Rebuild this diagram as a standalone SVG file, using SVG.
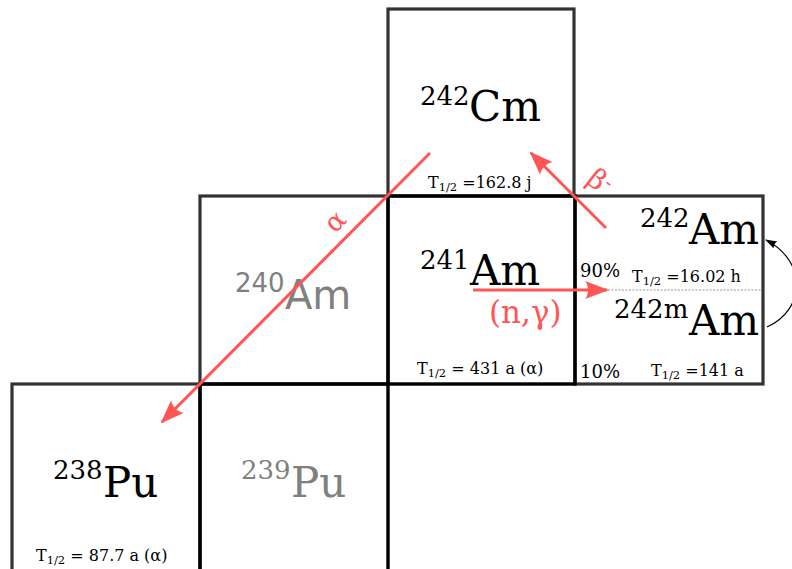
<svg xmlns="http://www.w3.org/2000/svg" width="792" height="569" viewBox="0 0 792 569">
<style>
.box{fill:none;stroke:#333;stroke-width:3.2}
.boxk{fill:none;stroke:#000;stroke-width:3.4}
.s{font-family:"DejaVu Serif","Liberation Serif",serif;fill:#000}
.ss{font-family:"DejaVu Sans","Liberation Sans",sans-serif;fill:#808080}
.g{fill:#808080}
.big{font-size:42px}
.sup{font-size:26px}
.t{font-size:16px}
.sub{font-size:11.5px}
.red{fill:#ff5555}
.arr{stroke:#ff5555;stroke-width:3;fill:none}
</style>
<defs>
<marker id="ra" markerUnits="userSpaceOnUse" viewBox="0 0 24 18" markerWidth="24" markerHeight="18" refX="22" refY="9" orient="auto">
<path d="M24 9 L0 0 C4 4 4 14 0 18 Z" fill="#ff5555"/>
</marker>
<marker id="ka" markerUnits="userSpaceOnUse" viewBox="0 0 12 8" markerWidth="12" markerHeight="8" refX="11" refY="4" orient="auto">
<path d="M12 4 L0 0 C2 2 2 6 0 8 Z" fill="#000"/>
</marker>
</defs>
<g id="cm242">
<rect class="box" x="388" y="9" width="186" height="187"/>
<text class="s sup" x="420" y="105">242</text>
<text class="s big" x="469" y="121">Cm</text>
<text class="s t" x="428" y="188">T<tspan class="sub" dy="3">1/2</tspan><tspan dy="-3"> =162.8 j</tspan></text>
</g>
<g id="am240">
<rect class="box" x="200" y="196" width="188" height="188"/>
<text class="ss" font-size="26" x="235" y="292">240</text>
<text class="ss" font-size="40" x="285" y="309">Am</text>
</g>
<g id="am242">
<rect class="box" x="575" y="196" width="188" height="188"/>
<text class="s sup" x="640" y="227">242</text>
<text class="s big" x="689" y="244">Am</text>
<text class="s sup" x="614" y="318">242m</text>
<text class="s big" x="689" y="335">Am</text>
<text class="s" font-size="18" x="580" y="277">90%</text>
<text class="s t" x="632" y="282">T<tspan class="sub" dy="3">1/2</tspan><tspan dy="-3"> =16.02 h</tspan></text>
<text class="s" font-size="18" x="580" y="378">10%</text>
<text class="s t" x="651" y="376">T<tspan class="sub" dy="3">1/2</tspan><tspan dy="-3"> =141 a</tspan></text>
<line x1="608" y1="290" x2="762" y2="290" stroke="#999" stroke-width="1" stroke-dasharray="2,1.5"/>
</g>
<g id="pu238">
<rect class="box" x="12" y="384" width="188" height="200"/>
<text class="s sup" x="53" y="479">238</text>
<text class="s big" x="103" y="497">Pu</text>
<text class="s t" x="36" y="561">T<tspan class="sub" dy="3">1/2</tspan><tspan dy="-3"> = 87.7 a (α)</tspan></text>
</g>
<g id="pu239">
<rect class="boxk" x="200" y="384" width="188" height="200"/>
<text class="s sup g" x="241" y="479">239</text>
<text class="s big g" x="291" y="497">Pu</text>
</g>
<g id="am241">
<rect class="boxk" x="388" y="196" width="187" height="188"/>
<text class="s sup" x="420" y="269">241</text>
<text class="s big" x="470" y="285">Am</text>
<text class="s t" x="417" y="374">T<tspan class="sub" dy="3">1/2</tspan><tspan dy="-3"> = 431 a (α)</tspan></text>
</g>
<g id="connectors">
<line class="arr" x1="430" y1="153" x2="162" y2="422" marker-end="url(#ra)"/>
<line class="arr" x1="606" y1="228" x2="531" y2="153" marker-end="url(#ra)"/>
<line class="arr" x1="473" y1="290" x2="607" y2="290" marker-end="url(#ra)"/>
<path d="M767 327 C805 310 808 262 766 240" fill="none" stroke="#000" stroke-width="1.2" marker-end="url(#ka)"/>
<text class="s red" font-size="27" x="0" y="0" transform="translate(335 234) rotate(-45)">α</text>
<text class="s red" font-size="28" x="0" y="0" transform="translate(585 182) rotate(38)">β<tspan font-size="19" dy="-8">-</tspan></text>
<text class="s red" font-size="31" x="489" y="323">(n,γ)</text>
</g>
</svg>
